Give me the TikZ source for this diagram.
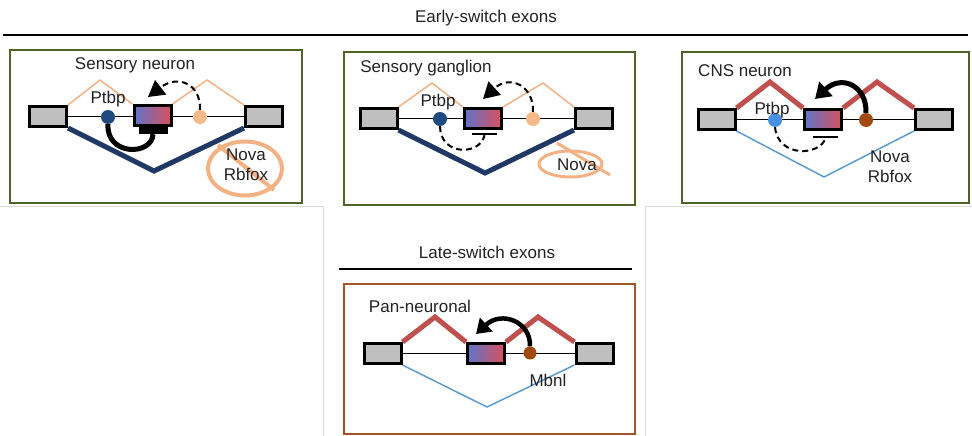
\documentclass[tikz,border=0pt]{standalone}
\usepackage{fontspec}
\setmainfont{Liberation Sans}
\usetikzlibrary{arrows.meta,shapes.geometric,backgrounds}
\definecolor{txt}{HTML}{222222}
\definecolor{framegreen}{HTML}{4F6228}
\definecolor{framebrown}{HTML}{A0562A}
\definecolor{exgray}{HTML}{BFBFBF}
\definecolor{altblue}{HTML}{5F74C8}
\definecolor{altred}{HTML}{D9505E}
\definecolor{peach}{HTML}{F4B183}
\definecolor{peachdot}{HTML}{F7B88A}
\definecolor{navyj}{HTML}{203864}
\definecolor{navydot}{HTML}{1F4A80}
\definecolor{redj}{HTML}{C0504D}
\definecolor{bluej}{HTML}{5B9BD5}
\definecolor{bluedot}{HTML}{4A90E0}
\definecolor{browndot}{HTML}{A04A10}
\begin{document}
\begin{tikzpicture}[x=1pt,y=-1pt,
  lbl/.style={font=\fontsize{17}{20}\selectfont, text=txt, inner sep=0pt, align=center},
  exon/.style={draw=black, line width=3pt, fill=exgray, minimum width=37pt, minimum height=20pt, inner sep=0pt},
  altexon/.style={exon, left color=altblue, right color=altred},
  dot/.style={circle, minimum size=14pt, inner sep=0pt},
  intron/.style={line width=1.5pt, black},
  incthin/.style={line width=1.5pt, peach},
  incthick/.style={line width=5pt, redj},
  skipthick/.style={line width=5pt, navyj},
  skipthin/.style={line width=1.5pt, bluej},
  dasharc/.style={line width=2pt, dash pattern=on 6pt off 4pt},
  solidarc/.style={line width=5pt},
  bigtip/.style={-{Triangle[length=16pt,width=18pt]}},
  inhib/.style={fill=black, minimum width=25pt, minimum height=2pt, inner sep=0pt},
  framegr/.style={draw=framegreen, line width=2pt},
  framebr/.style={draw=framebrown, line width=2pt},
  nosign/.style={draw=peach, line width=4pt},
  rulel/.style={line width=2.5pt, black},
  faint/.style={draw=gray!30, line width=1pt}
]
\useasboundingbox (0,0) rectangle (972,436);

% faint outlines
\draw[faint] (0,206) -- (323,206) -- (323,436);
\draw[faint] (972,206) -- (645,206) -- (645,436);

% top title
\node[lbl] (t1) at (486,18) {Early-switch exons};
\coordinate (r1a) at (3,35);
\coordinate (r1b) at (968,35);
\draw[rulel] (r1a) -- (r1b);

% ================= Panel 1 =================
\draw[framegr] (10,50) rectangle (302,203);
\node[lbl] (h1) at (135,65) {Sensory neuron};
\node[exon] (L1) at (48,116.5) {};
\node[altexon] (M1) at (152.5,115.5) {};
\node[exon] (R1) at (264,116.5) {};
\node[dot, fill=navydot] (P1) at (108,117) {};
\node[dot, fill=peachdot] (O1) at (200,117) {};
\node[lbl] (lp1) at (108,99) {Ptbp};
\node[fill=black, minimum width=29pt, minimum height=8pt, inner sep=0pt] (b1) at (153,130) {};
\coordinate (k1a) at (100,80);
\coordinate (k1b) at (207,80);
\coordinate (v1) at (154,171);
\begin{pgfonlayer}{background}
\draw[intron] (L1.east) -- (R1.west);
\draw[incthin] (L1.north east) -- (k1a) -- (M1.north west);
\draw[incthin] (M1.north east) -- (k1b) -- (R1.north west);
\draw[skipthick] (L1.south east) -- (v1) -- (R1.south west);
\end{pgfonlayer}
\coordinate (a1) at (148,97);
\draw[dasharc, bigtip] (O1.north) .. controls (201,84) and (178,74) .. (a1);
\draw[solidarc] (P1.south) .. controls (106,156) and (152,156) .. (b1.south);
\node[ellipse, nosign, minimum width=74pt, minimum height=54pt, inner sep=0pt] (n1) at (245,168.5) {};
\coordinate (s1a) at (218,145);
\coordinate (s1b) at (274,190);
\draw[nosign] (s1a) -- (s1b);
\node[lbl] (nt1) at (246,165) {Nova\\Rbfox};

% ================= Panel 2 =================
\draw[framegr] (344,52) rectangle (635,205);
\node[lbl] (h2) at (426,68) {Sensory ganglion};
\node[exon] (L2) at (378.5,118.5) {};
\node[altexon] (M2) at (483,118.5) {};
\node[exon] (R2) at (594,118.5) {};
\node[dot, fill=navydot] (P2) at (440,119) {};
\node[dot, fill=peachdot] (O2) at (533,119) {};
\node[lbl] (lp2) at (438,102) {Ptbp};
\node[inhib] (b2) at (484.5,134) {};
\coordinate (k2a) at (432,83);
\coordinate (k2b) at (543,83);
\coordinate (v2) at (485,173);
\begin{pgfonlayer}{background}
\draw[intron] (L2.east) -- (R2.west);
\draw[incthin] (L2.north east) -- (k2a) -- (M2.north west);
\draw[incthin] (M2.north east) -- (k2b) -- (R2.north west);
\draw[skipthick] (L2.south east) -- (v2) -- (R2.south west);
\end{pgfonlayer}
\coordinate (a2) at (483,99);
\draw[dasharc, bigtip] (O2.north) .. controls (534,86) and (510,74) .. (a2);
\draw[dasharc] (P2.south) .. controls (440,156) and (480,156) .. (b2.south);
\node[ellipse, nosign, line width=3pt, minimum width=63pt, minimum height=26pt, inner sep=0pt] (n2) at (570.5,164) {};
\coordinate (s2a) at (557,143);
\coordinate (s2b) at (610,175);
\draw[nosign, line width=3pt] (s2a) -- (s2b);
\node[lbl] (nt2) at (577,165) {Nova};

% ================= Panel 3 =================
\draw[framegr] (682,52) rectangle (969,203);
\node[lbl] (h3) at (745,71) {CNS neuron};
\node[exon] (L3) at (716.5,119.5) {};
\node[altexon] (M3) at (823,119.5) {};
\node[exon] (R3) at (934,119.5) {};
\node[dot, fill=bluedot] (P3) at (775,120) {};
\node[dot, fill=browndot] (B3) at (866,120) {};
\node[inhib] (b3) at (825.5,137) {};
\coordinate (k3a) at (770,82);
\coordinate (k3b) at (877,82);
\coordinate (v3) at (824,177);
\begin{pgfonlayer}{background}
\draw[intron] (L3.east) -- (R3.west);
\draw[incthick] (L3.north east) -- (k3a) -- (M3.north west);
\draw[incthick] (M3.north east) -- (k3b) -- (R3.north west);
\draw[skipthin] (L3.south east) -- (v3) -- (R3.south west);
\end{pgfonlayer}
\node[lbl] (lp3) at (772,110) {Ptbp};
\coordinate (a3) at (815,99);
\draw[solidarc, -{Triangle[length=15pt,width=19pt]}] (B3.north) .. controls (867,86) and (842,74) .. (a3);
\draw[dasharc] (P3.south) .. controls (778,158) and (820,156) .. (b3.south);
\node[lbl] (nt3) at (890,167) {Nova\\Rbfox};

% ================= Panel 4 =================
\node[lbl] (t2) at (487,252) {Late-switch exons};
\coordinate (r2a) at (339,269);
\coordinate (r2b) at (632,269);
\draw[rulel] (r2a) -- (r2b);
\draw[framebr] (344,284) rectangle (635,434);
\node[lbl] (h4) at (420,306) {Pan-neuronal};
\node[exon] (L4) at (382.5,353.5) {};
\node[altexon] (M4) at (486,353.5) {};
\node[exon] (R4) at (594.5,353.5) {};
\node[dot, minimum size=13pt, fill=browndot] (B4) at (530,353) {};
\coordinate (k4a) at (435,317);
\coordinate (k4b) at (538,317);
\coordinate (v4) at (487,407);
\begin{pgfonlayer}{background}
\draw[intron] (L4.east) -- (R4.west);
\draw[incthick] (L4.north east) -- (k4a) -- (M4.north west);
\draw[incthick] (M4.north east) -- (k4b) -- (R4.north west);
\draw[skipthin] (L4.south east) -- (v4) -- (R4.south west);
\end{pgfonlayer}
\coordinate (a4) at (476,334);
\draw[solidarc, line width=4.5pt, -{Triangle[length=14pt,width=18pt]}] (B4.north) .. controls (531,322) and (502,310) .. (a4);
\node[lbl] (nt4) at (548,380) {Mbnl};
\end{tikzpicture}
\end{document}
